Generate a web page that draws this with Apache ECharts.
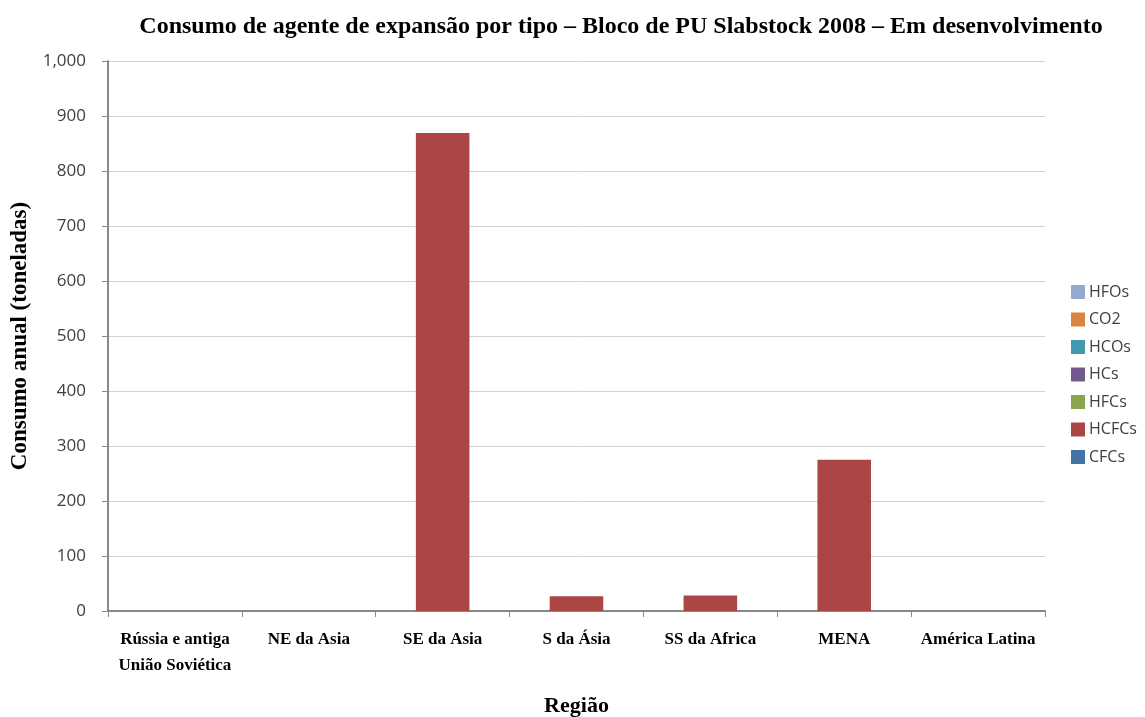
<!DOCTYPE html>
<html>
<head>
<meta charset="utf-8">
<script src="https://cdn.jsdelivr.net/npm/echarts@6/dist/echarts.min.js"></script>
<style>
  html, body { margin: 0; padding: 0; background: #fff; }
  #chart { width: 1145px; height: 717px; }
</style>
</head>
<body>
<div id="chart"></div>
<script>
const regions = ['Rússia e antiga\nUnião Soviética', 'NE da Asia', 'SE da Asia', 'S da Ásia', 'SS da Africa', 'MENA', 'América Latina']

// consumption per agent type (tonnes), bottom to top of the stack
const cfcs = [0, 0, 0, 0, 0, 0, 0]
const hcfcs = [0, 0, 869, 27, 28, 275, 0]
const hfcs = [0, 0, 0, 0, 0, 0, 0]
const hcs = [0, 0, 0, 0, 0, 0, 0]
const hcos = [0, 0, 0, 0, 0, 0, 0]
const co2 = [0, 0, 0, 0, 0, 0, 0]
const hfos = [0, 0, 0, 0, 0, 0, 0]

const seriesNames = ['CFCs', 'HCFCs', 'HFCs', 'HCs', 'HCOs', 'CO2', 'HFOs']
const seriesData = [cfcs, hcfcs, hfcs, hcs, hcos, co2, hfos]
const colors = ['#4572A7', '#AA4643', '#89A54E', '#71588F', '#4198AF', '#DB843D', '#93A9CF']

const chart = echarts.init(document.getElementById('chart'))

const serif = '"Liberation Serif", "DejaVu Serif", serif'
const sans = '"Open Sans", "Liberation Sans", sans-serif'

chart.setOption({
  animation: false,
  color: colors,
  title: {
    text: 'Consumo de agente de expansão por tipo – Bloco de PU Slabstock 2008 – Em desenvolvimento',
    left: 616,
    top: 10,
    textAlign: 'center',
    textStyle: { fontFamily: serif, fontSize: 24, fontWeight: 'bold', color: '#000' }
  },
  legend: {
    orient: 'vertical',
    left: 1066,
    top: 279,
    itemWidth: 14,
    itemHeight: 14,
    itemGap: 11.5,
    icon: 'rect',
    // legend listed top to bottom in reverse of the stack
    data: seriesNames.slice().reverse(),
    textStyle: { fontFamily: sans, fontSize: 16, color: '#404040', padding: [0, 0, 0, -1] }
  },
  grid: { left: 108, right: 100, top: 61, bottom: 106, outerBoundsMode: 'none' },
  xAxis: {
    type: 'category',
    data: regions,
    name: 'Região',
    nameLocation: 'middle',
    nameGap: 84,
    nameTextStyle: { fontFamily: serif, fontSize: 22, fontWeight: 'bold', color: '#000' },
    axisLine: { lineStyle: { color: '#888', width: 2 } },
    axisTick: { show: true, length: 6, lineStyle: { color: '#888' } },
    axisLabel: {
      interval: 0,
      margin: 16,
      fontFamily: serif,
      fontSize: 17,
      fontWeight: 'bold',
      color: '#000',
      lineHeight: 26
    }
  },
  yAxis: {
    type: 'value',
    min: 0,
    max: 1000,
    interval: 100,
    name: 'Consumo anual (toneladas)',
    nameLocation: 'middle',
    nameGap: 75,
    nameTextStyle: { fontFamily: serif, fontSize: 23, fontWeight: 'bold', color: '#000' },
    axisLine: { show: true, lineStyle: { color: '#888', width: 2 } },
    axisTick: { show: true, length: 6, lineStyle: { color: '#888' } },
    splitLine: { lineStyle: { color: '#d2d2d2', width: 1 } },
    axisLabel: {
      margin: 22,
      fontFamily: sans,
      fontSize: 17,
      color: '#404040',
      formatter: v => v.toLocaleString('en-US')
    }
  },
  series: seriesNames.map((name, i) => ({
    name: name,
    type: 'bar',
    stack: 'total',
    barWidth: '40%',
    data: seriesData[i]
  }))
})
</script>
</body>
</html>
